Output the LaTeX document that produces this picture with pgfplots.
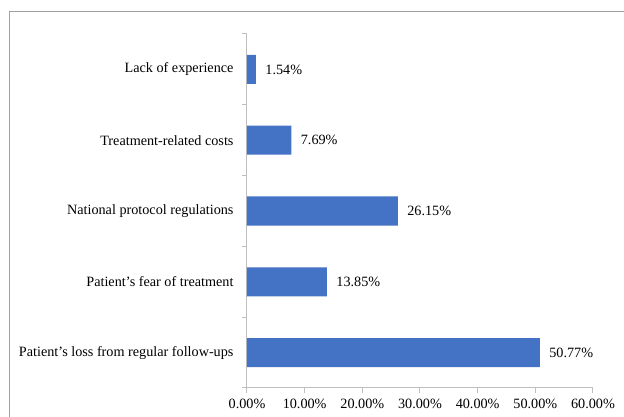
\documentclass[border=0pt]{standalone}
\usepackage{pgfplots}
\pgfplotsset{compat=1.18}
\usepackage{fontspec}
\setmainfont{Liberation Serif}
\definecolor{barblue}{HTML}{4472C4}
\definecolor{axgray}{HTML}{BFBFBF}
\definecolor{bordergray}{HTML}{A0A0A0}
\begin{document}
\begin{tikzpicture}[x=1pt,y=1pt]
\useasboundingbox (0pt,0pt) rectangle (624pt,417pt);
\draw[bordergray, line width=1pt] (9.5pt,-5pt) -- (9.5pt,405pt) -- (630pt,405pt);
\begin{axis}[
  at={(247pt,29pt)}, anchor=south west,
  scale only axis, width=346pt, height=354pt,
  xbar, bar width=0.41,
  xmin=0, xmax=60, ymin=-0.5, ymax=4.5,
  axis x line=bottom, axis y line=left,
  axis line style={axgray, line width=1pt, -},
  xtick={0,10,...,60},
  xticklabel={\pgfmathprintnumber[fixed,fixed zerofill,precision=2]{\tick}\%},
  x tick label style={font=\fontsize{14.2}{16}\selectfont, yshift=-3pt},
  ytick={0,1,2,3,4},
  yticklabels={Patient’s loss from regular follow-ups, Patient’s fear of treatment, National protocol regulations, Treatment-related costs, Lack of experience},
  y tick label style={font=\fontsize{14.2}{16}\selectfont, xshift=-5pt},
  major y tick style={draw=none},
  minor ytick={-0.5,0.5,1.5,2.5,3.5,4.5},
  minor y tick style={axgray, line width=1pt},
  minor tick length=5pt,
  major x tick style={axgray, line width=1pt},
  major tick length=5pt,
  tick align=outside,
  /pgf/number format/assume math mode=true,
  nodes near coords={\pgfmathprintnumber[fixed,fixed zerofill,precision=2]{\pgfplotspointmeta}\%},
  every node near coord/.append style={font=\fontsize{14.2}{16}\selectfont, anchor=west, xshift=6pt, text=black},
  clip=false,
]
\addplot[fill=barblue, draw=none] coordinates {
  (50.77,0) (13.85,1) (26.15,2) (7.69,3) (1.54,4)
};
\end{axis}
\end{tikzpicture}
\end{document}
